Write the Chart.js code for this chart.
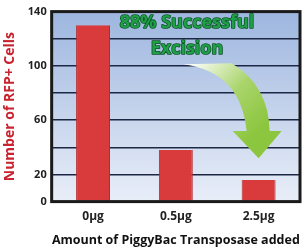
<!DOCTYPE html>
<html>
<head>
<meta charset="utf-8">
<script src="https://cdn.jsdelivr.net/npm/chart.js@4"></script>
<style>
  html, body { margin: 0; padding: 0; background: #fff; }
  #wrap { width: 308px; height: 249px; }
</style>
</head>
<body>
<div id="wrap"><canvas id="chart" width="308" height="249"></canvas></div>
<script>
var categories = ['0\u00b5g', '0.5\u00b5g', '2.5\u00b5g'];
var cells = [130, 38, 16];
var yTicksShown = [0, 20, 60, 100, 140];

// light blue gradient behind the plot, border all round, arrow and callout text
var decor = {
  id: 'decor',
  beforeDraw: function (chart) {
    var a = chart.chartArea, ctx = chart.ctx;
    var g = ctx.createLinearGradient(0, a.top, 0, a.bottom);
    g.addColorStop(0, '#9db6df');
    g.addColorStop(1, '#e9eef8');
    ctx.save();
    ctx.fillStyle = g;
    ctx.fillRect(a.left, a.top, a.right - a.left, a.bottom - a.top);
    ctx.restore();
  },
  afterDraw: function (chart) {
    var a = chart.chartArea, ctx = chart.ctx;
    var x = chart.scales.x, y = chart.scales.y;
    ctx.save();
    ctx.strokeStyle = '#1a1a1a';
    ctx.lineWidth = 3;
    ctx.strokeRect(a.left, a.top, a.right - a.left, a.bottom - a.top);

    // curved arrow pointing at the last bar
    var tipX = x.getPixelForValue(2), tipY = y.getPixelForValue(32);
    var headY = y.getPixelForValue(52), topY = y.getPixelForValue(102);
    var ag = ctx.createLinearGradient(tipX - 70, topY, tipX, headY);
    ag.addColorStop(0, '#ffffff');
    ag.addColorStop(0.55, '#a9d46a');
    ag.addColorStop(1, '#8cc63f');
    ctx.fillStyle = ag;
    ctx.beginPath();
    ctx.moveTo(tipX - 76, topY + 1);
    ctx.lineTo(tipX - 27, topY);
    ctx.quadraticCurveTo(tipX + 10, topY + 22, tipX + 11, headY);
    ctx.lineTo(tipX + 23, headY);
    ctx.lineTo(tipX, tipY);
    ctx.lineTo(tipX - 26, headY);
    ctx.lineTo(tipX - 12, headY);
    ctx.quadraticCurveTo(tipX - 18, topY + 8, tipX - 76, topY + 1);
    ctx.closePath();
    ctx.fill();

    ctx.font = 'bold 18px "Open Sans", sans-serif';
    ctx.textAlign = 'center';
    ctx.textBaseline = 'middle';
    ctx.lineJoin = 'round';
    ctx.lineWidth = 1.6;
    ctx.strokeStyle = '#0d5526';
    ctx.fillStyle = '#1fa048';
    var cx = 187;
    ctx.strokeText('88% Successful', cx, a.top + 11);
    ctx.fillText('88% Successful', cx, a.top + 11);
    ctx.strokeText('Excision', cx, a.top + 37);
    ctx.fillText('Excision', cx, a.top + 37);
    ctx.restore();
  }
};

var config = {
  type: 'bar',
  data: {
    labels: categories,
    datasets: [{
      data: cells,
      backgroundColor: '#d93a3b',
      borderColor: '#b52a2c',
      borderWidth: { left: 1, right: 1, top: 0, bottom: 0 },
      barPercentage: 0.41,
      categoryPercentage: 1
    }]
  },
  options: {
    responsive: false,
    animation: false,
    layout: { padding: { top: 4, right: 8, left: 2, bottom: 0 } },
    plugins: {
      legend: { display: false },
      tooltip: { enabled: false }
    },
    scales: {
      x: {
        grid: { display: false, drawTicks: false },
        border: { display: false },
        ticks: {
          color: '#222',
          padding: 8,
          font: { family: 'Open Sans', size: 12, weight: 'bold' }
        },
        title: {
          display: true,
          text: 'Amount of PiggyBac Transposase added',
          color: '#111',
          padding: { top: 1, bottom: 1 },
          font: { family: 'Open Sans', size: 12.5, weight: 'bold' }
        }
      },
      y: {
        min: 0,
        max: 140,
        ticks: {
          stepSize: 20,
          autoSkip: false,
          padding: 5,
          color: '#222',
          font: { family: 'Open Sans', size: 11, weight: 'bold' },
          callback: function (v) { return yTicksShown.indexOf(v) >= 0 ? v : ''; }
        },
        grid: { color: '#1c2744', lineWidth: 1.6, drawTicks: false },
        border: { display: false },
        title: {
          display: true,
          text: 'Number of RFP+ Cells',
          color: '#c8232f',
          padding: { top: 0, bottom: 4 },
          font: { family: 'Open Sans', size: 14, weight: 'bold' }
        }
      }
    }
  },
  plugins: [decor]
};

window.onload = function () {
  var ctx = document.getElementById('chart');
  window.myChart = new Chart(ctx, config);
};
</script>
</body>
</html>
